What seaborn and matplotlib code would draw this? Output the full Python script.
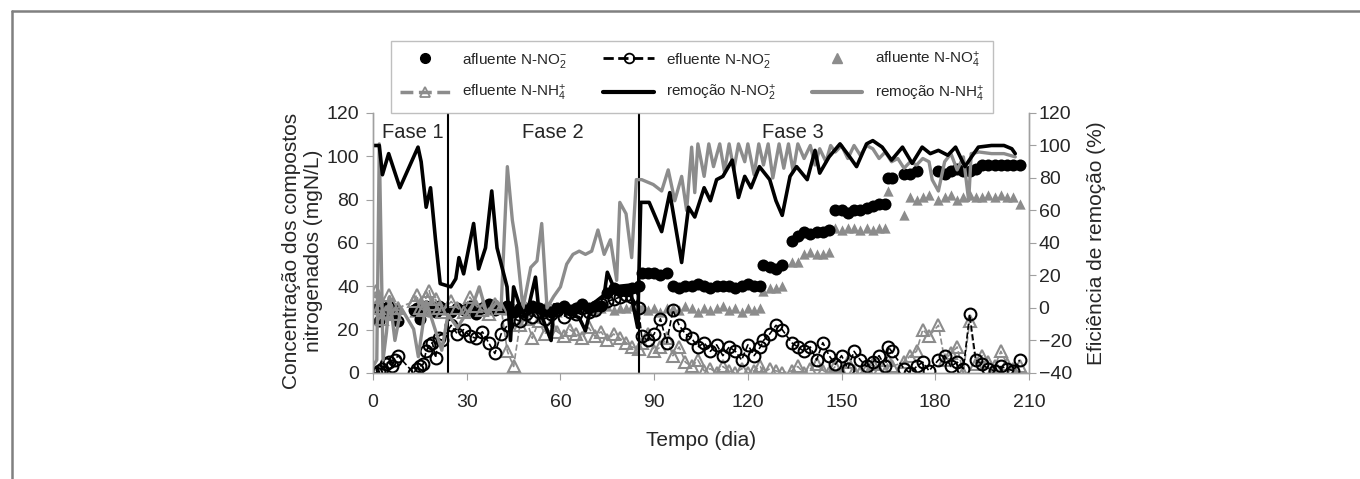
import numpy as np
import pandas as pd
import matplotlib
matplotlib.use('Agg')
import matplotlib.pyplot as plt
from matplotlib.lines import Line2D
import seaborn as sns

# --- dados ---
nan = np.nan
dias = ([0, 1, 2, 3, 4, 5, 6, 7, 8, 13, 14, 15, 16, 17, 18, 19, 20, 21, 22]
        + [25, 27, 29, 31, 33, 35, 37, 39, 41, 43, 45, 47, 49, 51, 53, 55, 57, 59, 61, 63,
           65, 67, 69, 71, 73, 75, 77, 79, 81, 83, 85]
        + [86, 88, 90, 92, 94]
        + [96, 98, 100, 102, 104, 106, 108, 110, 112, 114, 116, 118, 120, 122, 124]
        + [125, 127, 129, 131]
        + [134, 136]
        + [138, 140, 142, 144, 146]
        + [148, 150, 152, 154, 156, 158]
        + [160, 162, 164]
        + [165, 166]
        + [170, 172, 174, 176, 178]
        + [181, 183, 185, 187, 189, 191, 193]
        + [195, 197, 199, 201, 203, 205, 207])

afluente_no2 = ([30, 30, 24, 30, 29, 31, 30, 28, 24, 29, 30, 25, 30, 31, 29, 30, 28, 31, 30]
                + [28, 30, 29, 31, 27, 30, 32, 29, 30, 31, 28, 30, 29, 31, 30, 29, 28, 30, 31, 29,
                   30, 32, 30, 31, 31, 37, 39, 38, 38, 39, 40]
                + [46, 46, 46, 45, 46]
                + [40, 39, 40, 40, 41, 40, 39, 40, 40, 40, 39, 40, 41, 40, 40]
                + [50, 49, 48, 50]
                + [61, 63]
                + [65, 64, 65, 65, 66]
                + [75, 75, 74, 75, 75, 76]
                + [77, 78, 78]
                + [90, 90]
                + [92, 92, 93, nan, nan]
                + [93, 92, 93, 94, 93, 93, 94]
                + [96, 96, 96, 96, 96, 96, 96])

efluente_no2 = ([0, 0, 1, 2, 4, 5, 3, 6, 8, 0, 2, 3, 4, 10, 13, 14, 7, 16, 15]
                + [22, 18, 20, 17, 16, 19, 14, 9, 18, 22, 25, 24, 27, 26, 28, 25, 27, 29, 26, 28,
                   27, 30, 28, 29, 32, 33, 34, 35, 36, 35, 30]
                + [17, 15, 18, 25, 14]
                + [29, 22, 18, 16, 12, 14, 10, 13, 8, 12, 10, 6, 13, 8, 12]
                + [15, 18, 22, 20]
                + [14, 12]
                + [10, 12, 6, 14, 8]
                + [4, 8, 2, 10, 6, 3]
                + [5, 8, 3]
                + [12, 10]
                + [2, 0, 3, 5, 1]
                + [6, 8, 3, 5, 2, 27, 6]
                + [4, 2, 1, 3, 2, 1, 6])

afluente_nh4 = ([32, 30, 35, 30, 28, 33, 30, 29, 31, 28, 30, 33, 29, 31, 30, 28, 32, 30, 29]
                + [29, 31, 30, 28, 30, 32, 29, 30, 31, 29, 30, 28, 31, 30, 29, 31, 30, 28, 30, 29,
                   31, 30, 30, 29, 30, 31, 29, 30, 30, 31, 30]
                + [30, 29, 30, 28, 30]
                + [30, 29, 31, 30, 28, 30, 29, 30, 31, 29, 30, 28, 30, 29, 30]
                + [38, 39, 39, 40]
                + [51, 51]
                + [55, 56, 55, 55, 56]
                + [67, 66, 67, 67, 66, 67]
                + [66, 67, 67]
                + [84, nan]
                + [73, 81, 80, 81, 82]
                + [80, 81, 82, 80, 81, 82, 81]
                + [81, 82, 81, 82, 81, 81, 78])

efluente_nh4 = ([35, 38, 30, 25, 28, 36, 32, 27, 30, 33, 36, 30, 29, 35, 38, 32, 34, 30, 28]
                + [33, 30, 28, 35, 31, 29, 27, 32, 30, 10, 3, 22, 25, 16, 24, 18, 22, 19, 17, 20,
                   18, 16, 21, 17, 19, 15, 18, 16, 14, 12, 11]
                + [14, 18, 10, 12, 16]
                + [8, 12, 5, 3, 6, 1, 2, 0, 3, 1, 0, 2, 0, 1, 3]
                + [0, 2, 1, 0]
                + [1, 3]
                + [0, 2, 4, 1, 0]
                + [3, 0, 5, 1, 0, 2]
                + [4, 1, 0]
                + [6, 3]
                + [5, 8, 10, 20, 17]
                + [22, 6, 9, 12, 0, 24, 4]
                + [8, 5, 3, 10, 4, 2, 3])

dias_rem_no2 = [0, 1, 2, 3, 5, 8.6, 14.4, 15.4, 17, 18.4, 20, 21.5, 24.9, 26.5, 27.5, 29,
                32.2, 33.8, 36, 38, 39.7, 42.9, 44, 45, 47, 49, 52, 53, 57, 58, 61, 66, 68,
                70, 74, 75, 77, 82, 84.7, 85.7, 88.4, 92.4, 95, 98.8, 101, 103, 106, 108,
                110, 112, 115, 117, 119, 121, 123.7, 127, 129, 131, 133.5, 135.6, 139,
                141.5, 143, 146, 149.5, 152.6, 154.8, 158, 160, 163, 166, 169.5, 172.6,
                175.8, 178.4, 181, 184, 186.5, 189.5, 191.6, 193.8, 198, 202, 204.5, 205.6]
remocao_no2 = [100, 100, 100, 82, 95, 74, 99, 90, 62, 74, 42, 15, 13, 18, 31, 21,
               52, 24, 37, 72, 37, 13, -20, 13, 1, -6, 19, 0, -20, 2, -2, -6, -14,
               2, 8, 22, 13, 14, -12, 65, 65, 47, 71, 28, 62, 56, 74, 66,
               79, 81, 91, 68, 81, 74, 87, 79, 66, 57, 81, 87, 79,
               97, 83, 93, 101, 93, 87, 101, 103, 99, 91, 99, 89,
               99, 95, 97, 94, 99, 87, 93, 99, 100, 100, 98, 95]

dias_rem_nh4 = [0, 1.2, 2, 3.2, 4.3, 5.3, 7, 9, 13, 14.5, 17, 19, 22, 24, 27, 29, 32, 34,
                36.5, 39.7, 41, 43, 44.6, 46, 48, 50.5, 52.5, 54, 55.7, 57.8, 60, 62, 64,
                66, 68, 70, 72, 74, 76, 78, 79, 81, 82.8, 84.3, 86, 89.7, 92.4, 94.5,
                96.6, 98.8, 100.4, 102, 103, 104, 106, 107.5, 109, 111, 112.5, 114,
                115.5, 117, 119, 120, 122, 123.5, 125, 126.5, 128, 130, 131.5, 133,
                134.5, 136, 138, 140, 141.5, 143, 145, 146.5, 148, 150, 152, 154, 156,
                158, 160, 162, 164, 166, 168, 170, 172, 174, 176, 178, 179, 181, 183,
                185, 187, 189, 190.7, 191.5, 194, 198, 202, 205.6]
remocao_nh4 = [-36, -32, 101, -32, -15, 7, -20, 0, -13, -30, 4, -8, -26, -4, -12, -6, 2, 13,
               -4, 4, 0, 87, 54, 37, 0, 25, 29, 52, 0, 7, 13, 27, 33,
               35, 33, 35, 48, 33, 42, 17, 65, 58, 31, 79, 79, 76, 72, 85,
               66, 81, 60, 99, 71, 101, 81, 101, 87, 101, 84, 101,
               85, 101, 90, 101, 82, 101, 88, 101, 80, 101, 86, 101,
               84, 101, 92, 100, 88, 98, 90, 100, 96, 100, 92, 100, 94,
               100, 98, 92, 96, 90, 92, 86, 90, 88, 92, 90, 79, 72, 90,
               95, 85, 93, 66, 95, 96, 95, 95, 93]

fases = ['Fase 1', 'Fase 2', 'Fase 3']
fases_x = [12.8, 57.6, 134.4]
limites_fase = [24, 85.2]

CINZA = '#8c8c8c'
EIXO = '#a0a0a0'

# --- estilo ---
sns.set_style('white')
plt.rcParams['font.family'] = ['Liberation Sans', 'DejaVu Sans']
plt.rcParams['mathtext.fontset'] = 'custom'
plt.rcParams['mathtext.rm'] = 'Liberation Sans'
plt.rcParams['mathtext.it'] = 'Liberation Sans:italic'
plt.rcParams['mathtext.default'] = 'regular'

df = pd.DataFrame({'dia': dias, 'afl_no2': afluente_no2, 'efl_no2': efluente_no2,
                   'afl_nh4': afluente_nh4, 'efl_nh4': efluente_nh4})
df_no2 = pd.DataFrame({'dia': dias_rem_no2, 'rem': remocao_no2})
df_nh4 = pd.DataFrame({'dia': dias_rem_nh4, 'rem': remocao_nh4})

fig = plt.figure(figsize=(13.6, 4.79), dpi=100)
ax = fig.add_axes([0.2743, 0.2213, 0.4823, 0.5428])
ax2 = ax.twinx()

# eixo primário: concentrações
sns.lineplot(data=df, x='dia', y='efl_nh4', ax=ax, color=CINZA, linestyle='--', lw=1.2,
             marker='^', markersize=8.5, markerfacecolor='none', markeredgecolor=CINZA,
             markeredgewidth=1.5, estimator=None, sort=False)
sns.scatterplot(data=df, x='dia', y='afl_nh4', ax=ax, color=CINZA, marker='^', s=55,
                linewidth=0)
sns.lineplot(data=df, x='dia', y='efl_no2', ax=ax, color='black', linestyle='--', lw=1.2,
             marker='o', markersize=8.5, markerfacecolor='none', markeredgecolor='black',
             markeredgewidth=1.5, estimator=None, sort=False)
sns.scatterplot(data=df, x='dia', y='afl_no2', ax=ax, color='black', marker='o', s=75,
                linewidth=0)

for xl in limites_fase:
    ax.axvline(xl, color='black', lw=1.5)
for nome, xf in zip(fases, fases_x):
    ax.text(xf, 111, nome, ha='center', va='center', fontsize=14.5)

# eixo secundário: eficiência de remoção
sns.lineplot(data=df_nh4, x='dia', y='rem', ax=ax2, color=CINZA, lw=2.4,
             estimator=None, sort=False)
sns.lineplot(data=df_no2, x='dia', y='rem', ax=ax2, color='black', lw=2.6,
             estimator=None, sort=False)

ax.set_xlim(0, 210)
ax.set_ylim(0, 120)
ax2.set_ylim(-40, 120)
ax.set_xticks(range(0, 211, 30))
ax.set_yticks(range(0, 121, 20))
ax2.set_yticks(range(-40, 121, 20))

for a in (ax, ax2):
    for s in a.spines.values():
        s.set_color(EIXO)
        s.set_linewidth(1.0)
    a.spines['top'].set_visible(False)
ax.tick_params(axis='both', direction='out', length=5, color=EIXO, labelsize=14, pad=5,
               left=True, bottom=True)
ax.tick_params(axis='x', pad=10)
ax2.tick_params(axis='y', direction='out', length=5, color=EIXO, labelsize=14, pad=2,
                right=True)

ax.set_xlabel('Tempo (dia)', fontsize=15)
ax.xaxis.set_label_coords(0.5, -0.225)
ax.set_ylabel('Concentração dos compostos\nnitrogenados (mgN/L)', fontsize=15,
              linespacing=1.15)
ax.yaxis.set_label_coords(-0.077, 0.47)
ax2.set_ylabel('Eficiência de remoção (%)', fontsize=15)
ax2.yaxis.set_label_coords(1.088, 0.5)

# legenda (ordem por coluna)
handles = [
    Line2D([], [], color='black', marker='o', linestyle='none', markersize=7),
    Line2D([], [], color=CINZA, marker='^', linestyle='--', lw=2.5, markersize=7,
           markerfacecolor='none', markeredgewidth=1.3),
    Line2D([], [], color='black', marker='o', linestyle='--', lw=2.0, markersize=7,
           markerfacecolor='none', markeredgewidth=1.3),
    Line2D([], [], color='black', lw=3),
    Line2D([], [], color=CINZA, marker='^', linestyle='none', markersize=7),
    Line2D([], [], color=CINZA, lw=3),
]
labels = ['afluente N-NO$_2^{-}$', 'efluente N-NH$_4^{+}$', 'efluente N-NO$_2^{-}$',
          'remoção N-NO$_2^{+}$', 'afluente N-NO$_4^{+}$', 'remoção N-NH$_4^{+}$']
leg = fig.legend(handles, labels, ncol=3, loc='center',
                 bbox_to_anchor=(0.2816, 0.7766, 0.4544, 0.1253),
                 bbox_transform=fig.transFigure, mode='expand', fontsize=11,
                 frameon=True, fancybox=False, edgecolor='#b0b0b0', borderpad=0.6,
                 labelspacing=0.9, handlelength=3.3, handletextpad=0.8)
leg.get_frame().set_linewidth(1.0)

# moldura da página (topo e esquerda)
fig.add_artist(Line2D([0.0085, 0.0085], [0, 0.977], transform=fig.transFigure,
                      color='#808080', lw=1.8))
fig.add_artist(Line2D([0.0085, 1], [0.977, 0.977], transform=fig.transFigure,
                      color='#808080', lw=1.8))

fig.savefig('out.png', dpi=100)
